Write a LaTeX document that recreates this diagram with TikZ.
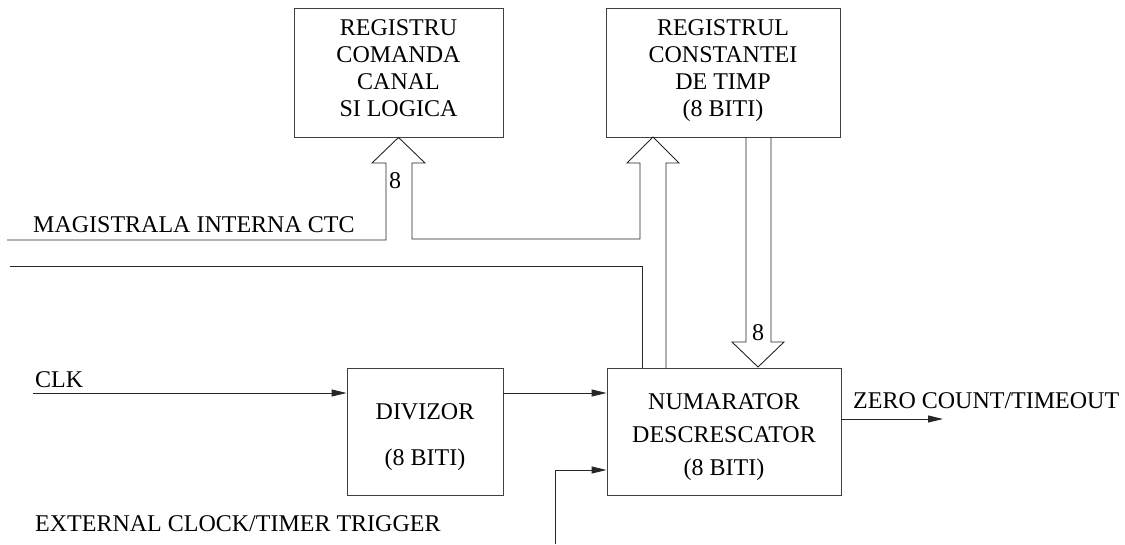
\documentclass[tikz,border=0pt]{standalone}
\usepackage{fontspec}
\setmainfont{Liberation Serif}
\usetikzlibrary{arrows.meta}
\begin{document}
\begin{tikzpicture}[x=1pt,y=-1pt]
\tikzset{
  blk/.style={draw=black!75, line width=0.9pt, inner sep=0pt, align=center,
              font=\fontsize{24}{27}\selectfont},
  wire/.style={line width=0.9pt, draw=black!85},
  sig/.style={wire, -{Triangle[length=15pt,width=7pt]}},
  lbl/.style={inner sep=0pt, font=\fontsize{24}{27}\selectfont},
}
\useasboundingbox (0,0) rectangle (1125,544);

% blocks
\node[blk, minimum width=209pt, minimum height=129pt] (reg1) at (398.5,72.5)
  {REGISTRU\\COMANDA\\CANAL\\SI LOGICA\rule[-8pt]{0pt}{8pt}};
\node[blk, minimum width=234pt, minimum height=129pt] (reg2) at (723,72.5)
  {REGISTRUL\\CONSTANTEI\\DE TIMP\\(8 BITI)\rule[-8pt]{0pt}{8pt}};
\node[blk, minimum width=156pt, minimum height=127pt] (div) at (425,431.5)
  {\rule{0pt}{28pt}DIVIZOR\\[19pt](8 BITI)};
\node[blk, minimum width=234pt, minimum height=127pt, font=\fontsize{24}{33}\selectfont] (num) at (724,431.5)
  {\rule{0pt}{28pt}NUMARATOR\\DESCRESCATOR\\(8 BITI)};

% labels
\node[lbl, anchor=base west] (mag) at (33,232) {MAGISTRALA INTERNA CTC};
\node[lbl, anchor=base west] (clk) at (35,387) {CLK};
\node[lbl, anchor=base west] (ext) at (35,531) {EXTERNAL CLOCK/TIMER TRIGGER};
\node[lbl, anchor=base west] (zero) at (853,408) {ZERO COUNT/TIMEOUT};
\node[lbl] (w1) at (395,181) {8};
\node[lbl] (w2) at (758,333) {8};

% free ends
\coordinate (busA) at (7,240);
\coordinate (busB) at (10,266);
\coordinate (clkin) at (33,393);
\coordinate (trig) at (555,544);
\coordinate (zc) at (943,419);

% internal bus with hollow arrows into both registers
\draw[wire] (busA) -- (386,240) -- (386,163) -- (372,163) -- (reg1.south)
  -- (425,163) -- (412,163) -- (412,239) -- (640,239) -- (640,163) -- (627,163)
  -- (653,137) -- (679,163) -- (666,163) -- (666,368);
\draw[wire] (busB) -- (642,266) -- (642,368);

% hollow arrow from constant register down to counter
\draw[wire] (746,137) -- (746,342) -- (732,342) -- (758,367) -- (784,342)
  -- (771,342) -- (771,137);

% signal arrows
\draw[sig] (clkin) -- (div.west |- clkin);
\draw[sig] (div.east |- 0,393) -- (num.west |- 0,393);
\draw[sig] (trig) -- (555,470) -- (num.west |- 0,470);
\draw[sig] (num.east |- zc) -- (zc);
\end{tikzpicture}
\end{document}
